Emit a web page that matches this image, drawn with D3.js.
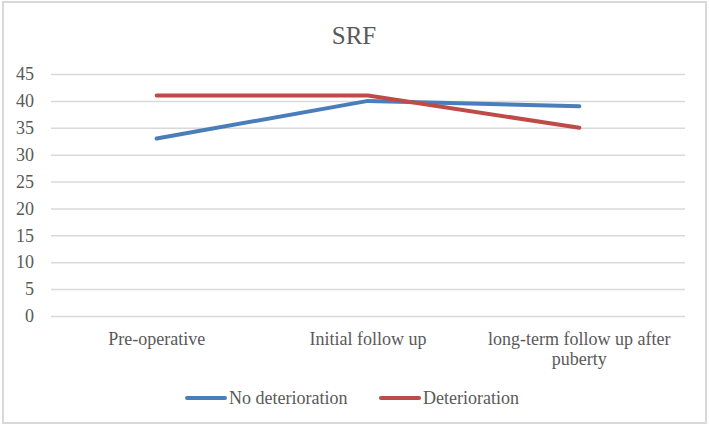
<!DOCTYPE html>
<html>
<head>
<meta charset="utf-8">
<script src="https://cdn.jsdelivr.net/npm/d3@7"></script>
<style>
  body { margin: 0; background: #fff; }
  svg text { font-family: "Liberation Serif", "DejaVu Serif", serif; fill: #595959; }
</style>
</head>
<body>
<div id="chart"></div>
<script>
// categories and series
var categories = ["Pre-operative", "Initial follow up", "long-term follow up after puberty"];
var noDeterioration = [33, 40, 39];
var deterioration = [41, 41, 35];
var yTicks = [0, 5, 10, 15, 20, 25, 30, 35, 40, 45];

var series = [
	{ name: "No deterioration", values: noDeterioration, color: "#4a7ebb" },
	{ name: "Deterioration", values: deterioration, color: "#be4b48" }
];

var width = 709, height = 428;
var margin = { left: 51, right: 24, top: 74, bottom: 112 };

var svg = d3.select("#chart").append("svg")
	.attr("width", width)
	.attr("height", height);

// chart frame
svg.append("rect")
	.attr("x", 3).attr("y", 2)
	.attr("width", 703).attr("height", 421)
	.attr("fill", "#fff")
	.attr("stroke", "#d9d9d9")
	.attr("stroke-width", 2);

var x = d3.scaleBand()
	.domain(categories)
	.range([margin.left, width - margin.right]);

var y = d3.scaleLinear()
	.domain([0, 45])
	.range([height - margin.bottom, margin.top]);

// title
svg.append("text")
	.attr("x", 354)
	.attr("y", 44)
	.attr("text-anchor", "middle")
	.style("font-size", "25px")
	.text("SRF");

// y axis with gridlines
var yAxis = svg.append("g")
	.attr("transform", "translate(" + margin.left + ",0)")
	.call(d3.axisLeft(y)
		.tickValues(yTicks)
		.tickSize(-(width - margin.left - margin.right))
		.tickPadding(17));

yAxis.select(".domain").remove();
yAxis.selectAll(".tick line")
	.attr("stroke", "#d9d9d9")
	.attr("stroke-width", 1.5);
yAxis.selectAll(".tick text")
	.style("font-size", "18px")
	.attr("fill", "#595959");

// x axis labels (no line, no ticks)
var xAxis = svg.append("g")
	.attr("transform", "translate(0," + (height - margin.bottom) + ")")
	.call(d3.axisBottom(x).tickSize(0).tickPadding(16));

xAxis.select(".domain").remove();
xAxis.selectAll(".tick text")
	.style("font-size", "18px")
	.attr("fill", "#595959")
	.each(function(d) {
		var t = d3.select(this);
		if (d.indexOf("puberty") >= 0) {
			t.text(null);
			t.append("tspan").attr("x", 0).attr("dy", "0.71em").text("long-term follow up after");
			t.append("tspan").attr("x", 0).attr("dy", "1.15em").text("puberty");
			t.attr("dy", null);
		}
	});

// lines
var line = d3.line()
	.x(function(d, i) { return x(categories[i]) + x.bandwidth() / 2; })
	.y(function(d) { return y(d); });

svg.selectAll(".series")
	.data(series)
	.enter()
	.append("path")
	.attr("class", "series")
	.attr("fill", "none")
	.attr("stroke", function(d) { return d.color; })
	.attr("stroke-width", 4)
	.attr("stroke-linecap", "round")
	.attr("stroke-linejoin", "round")
	.attr("d", function(d) { return line(d.values); });

// legend
var legendX = [187, 381];
var legend = svg.selectAll(".legend")
	.data(series)
	.enter()
	.append("g")
	.attr("class", "legend")
	.attr("transform", function(d, i) { return "translate(" + legendX[i] + ",398)"; });

legend.append("line")
	.attr("x1", 0).attr("x2", 38)
	.attr("stroke", function(d) { return d.color; })
	.attr("stroke-width", 4)
	.attr("stroke-linecap", "round");

legend.append("text")
	.attr("x", 42)
	.attr("dy", "0.35em")
	.style("font-size", "18px")
	.text(function(d) { return d.name; });
</script>
</body>
</html>
